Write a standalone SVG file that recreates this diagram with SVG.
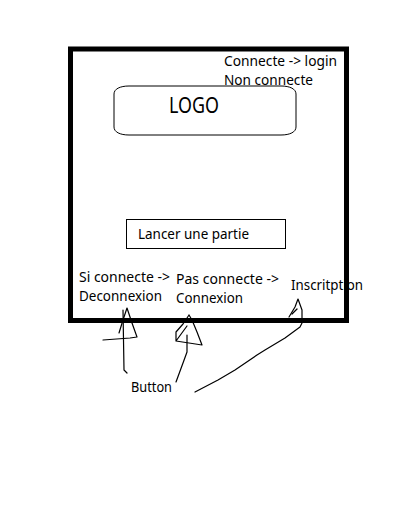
<svg xmlns="http://www.w3.org/2000/svg" width="411" height="530" viewBox="0 0 411 530">
  <style>
    .t { font-family: "Noto Sans", "Open Sans", "DejaVu Sans", sans-serif; font-size: 14px; fill: #000; }
    .logo { font-family: "Noto Sans", "Open Sans", "DejaVu Sans", sans-serif; font-size: 21px; fill: #000; }
    .pen { fill: none; stroke: #000; stroke-width: 1.2; stroke-linejoin: round; stroke-linecap: round; }
  </style>
  <rect width="411" height="530" fill="#fff"/>

  <!-- screen frame -->
  <g id="screen">
    <rect x="70.5" y="49" width="276" height="271.5" fill="none" stroke="#000" stroke-width="5"/>
  </g>

  <!-- login status -->
  <g id="login-status">
    <text class="t" x="224" y="66" textLength="113" lengthAdjust="spacingAndGlyphs">Connecte -&gt; login</text>
    <text class="t" x="224" y="85" textLength="89" lengthAdjust="spacingAndGlyphs">Non connecte</text>
  </g>

  <!-- logo -->
  <g id="logo">
    <path d="M129,86 H281 C290,86 296,89 296,94 V127 C296,132 290,135 281,135 H129 C120,135 114,132 114,127 V94 C114,89 120,86 129,86 Z" fill="none" stroke="#000" stroke-width="1"/>
    <text class="logo" x="169" y="113" textLength="50" lengthAdjust="spacingAndGlyphs">LOGO</text>
  </g>

  <!-- start game button -->
  <g id="lancer-partie">
    <rect x="126.5" y="219.5" width="159" height="29" fill="none" stroke="#000" stroke-width="1"/>
    <text class="t" x="138" y="239" textLength="111" lengthAdjust="spacingAndGlyphs">Lancer une partie</text>
  </g>

  <!-- bottom actions -->
  <g id="deconnexion">
    <text class="t" x="79" y="282" textLength="91" lengthAdjust="spacingAndGlyphs">Si connecte -&gt;</text>
    <text class="t" x="79" y="301" textLength="83" lengthAdjust="spacingAndGlyphs">Deconnexion</text>
  </g>
  <g id="connexion">
    <text class="t" x="176" y="284" textLength="103" lengthAdjust="spacingAndGlyphs">Pas connecte -&gt;</text>
    <text class="t" x="176" y="303" textLength="67" lengthAdjust="spacingAndGlyphs">Connexion</text>
  </g>
  <g id="inscription">
    <text class="t" x="291" y="290" textLength="72" lengthAdjust="spacingAndGlyphs">Inscritption</text>
  </g>
  <g id="button-label">
    <text class="t" x="131" y="392" textLength="41" lengthAdjust="spacingAndGlyphs">Button</text>
  </g>

  <!-- hand-drawn pointers -->
  <g id="connectors">
    <!-- pointer to Deconnexion -->
    <path class="pen" d="M119,333 L123,320 L127,308 L132,323 L137,337 L130,338 L103,340"/>
    <path class="pen" d="M123,310 L124,370 L127,373"/>
    <!-- pointer to Connexion -->
    <path class="pen" d="M189,315 L183,324 L176,332 L176,341 L187,326 M176,341 L202,345 L197,332 L192,320 L189,315"/>
    <path class="pen" d="M187,335 L187,352 L183,363 L176,382"/>
    <!-- pointer to Inscription -->
    <path class="pen" d="M289,317 L295,307 L298,299 L302,310 L302,323 L300,327 L285,338 L265,350 L257,355 L235,370 L218,380 L195,392"/>
    <path class="pen" d="M292,314 L297,309"/>
  </g>
</svg>
